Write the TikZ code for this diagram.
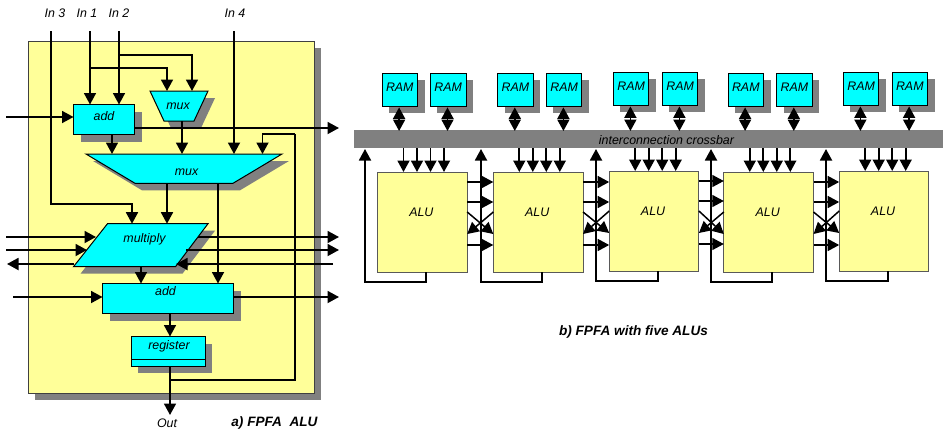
\documentclass[tikz,border=0pt]{standalone}
\usepackage{fontspec}
\setmainfont{Liberation Sans}
\usetikzlibrary{arrows.meta,shapes.geometric,shadows}
\definecolor{cy}{HTML}{00FFFF}
\definecolor{yl}{HTML}{FFFF99}
\definecolor{gr}{HTML}{808080}
\tikzset{
  lab/.style={font=\fontsize{12.4}{14}\selectfont\itshape,inner sep=0pt,text=black},
  capt/.style={font=\fontsize{13.6}{15}\selectfont\bfseries\itshape,inner sep=0pt,text=black},
  shad/.style={drop shadow={shadow xshift=7pt,shadow yshift=-7pt,fill=gr,opacity=1}},
  base/.style={lab,draw=black,line width=1pt,outer sep=0pt,inner sep=0pt},
  cybox/.style={base,fill=cy,shad,rectangle},
  trapfill/.style={draw=black,line width=1pt,fill=cy,line join=miter,shad},
  traptext/.style={lab,rectangle,outer sep=0pt},
  ramb/.style={cybox,minimum width=35.6pt,minimum height=33.4pt,anchor=north west,text height=5pt,text depth=2pt},
  alub/.style={base,draw=black!65,fill=yl,rectangle,minimum width=89.7pt,minimum height=100pt,anchor=north west,text height=2pt,text depth=12.6pt},
  wire/.style={line width=1.8pt,draw=black},
  fine wire/.style={line width=1.5pt,draw=black},
  arr/.style={wire,-{Triangle[length=11.5pt,width=12pt]}},
  arrs/.style={fine wire,-{Triangle[length=11.5pt,width=12pt]}},
  dbl/.style={wire,{Triangle[length=11.5pt,width=12pt]}-{Triangle[length=11.5pt,width=12pt]}},
}
\begin{document}
\begin{tikzpicture}[x=1pt,y=-1pt]
\useasboundingbox (0,0) rectangle (943,429);
% ---- panel a
\node[base,fill=yl,draw=black!75,shad,rectangle,minimum width=286pt,minimum height=352pt,anchor=north west] (panel) at (28,41) {};
\node[cybox,minimum width=61pt,minimum height=30pt,text height=3pt,text depth=2pt] (addone) at (104,119.5) {add};
\draw[trapfill] (150,91) -- (208,91) -- (194,121) -- (164,121) -- cycle;
\node[traptext,minimum width=30pt,minimum height=30pt,text height=8pt,text depth=2pt] (muxs) at (178,106) {mux};
\draw[trapfill] (86,154) -- (282,154) -- (233,183.3) -- (135,183.3) -- cycle;
\node[traptext,minimum width=98pt,minimum height=29.3pt,text height=15pt,text depth=2pt] (muxb) at (186.5,168.65) {mux};
\draw[trapfill] (107.5,223.7) -- (208,223.7) -- (175.5,266.7) -- (73.5,266.7) -- cycle;
\node[traptext,minimum width=68pt,minimum height=43pt,text height=2pt,text depth=8.4pt] (mult) at (144.5,245.2) {multiply};
\node[cybox,minimum width=131pt,minimum height=30pt,text height=2pt,text depth=9pt] (addtwo) at (168,298.5) {add\hspace*{5pt}};
\node[cybox,minimum width=74pt,minimum height=29.5pt,text height=2pt,text depth=6.4pt] (reg) at (168,351.25) {\hspace*{2pt}register};
\draw[line width=1pt] ([yshift=7pt]reg.south west) -- ([yshift=7pt]reg.south east);

\node[lab] (lin3) at (55,13) {In 3};
\node[lab] (lin1) at (87,13) {In 1};
\node[lab] (lin2) at (119,13) {In 2};
\node[lab] (lin4) at (235,13) {In 4};
\node[lab] (lout) at (167,423) {Out};
\node[capt] (capa) at (274.5,423) {a) FPFA\ \ ALU};

\foreach \n/\x in {i3/51,i1/90,i2/119,i4/234}
  \coordinate (\n) at (\x,31);
\draw[arr] (i3) |- (132,204) -- (132,223.7);
\draw[arr] (i1) -- (i1 |- addone.north);
\draw[arr] (i2) -- (i2 |- addone.north);
\draw[arr] (90,68) -| (167,91);
\draw[arr] (119,55) -| (192,91);
\draw[arr] (i4) -- (i4 |- muxb.north);
\coordinate (la) at (6,117);
\draw[arr] (la) -- (la -| addone.west);
\coordinate (ra) at (339,128);
\draw[arr] (ra -| addone.east) -- (ra);
\draw[arr] (112,134.5) -- (112,154);
\draw[arr] (182,121) -- (182,154);
\draw[wire] (170,380) -| (295,134);
\draw[arr] (295,134) -| (262.5,154);
\draw[arr] (167,183.3) -- (167,223.7);
\draw[arr] (218,183.3) -- (218,283.5);
\draw[arr] (6,237) -- (96,237);
\draw[arr] (6,250) -- (87,250);
\draw[arr] (74,264) -- (7,264);
\draw[arr] (198,237) -- (339,237);
\draw[arr] (186,250) -- (339,250);
\draw[arr] (333,264) -- (176,264);
\draw[arr] (141,266.7) -- (141,283.5);
\coordinate (lb) at (13,297);
\draw[arr] (lb) -- (lb -| addtwo.west);
\coordinate (rb) at (339,297);
\draw[arr] (rb -| addtwo.east) -- (rb);
\draw[arr] (170,313.5) -- (170,336.5);
\coordinate (o) at (170,415);
\draw[arr] (o |- reg.south) -- (o);

% ---- panel b
\node[lab,fill=gr,rectangle,minimum width=589pt,minimum height=18pt,anchor=north west] (bar) at (354,130) {};
\node[lab] (bartext) at (666.5,140) {interconnection crossbar};
\foreach \n/\x/\y in {1/382/73,2/430.4/73,3/497.7/73,4/546.3/73,5/613.3/72,6/662.3/72,7/728/73,8/776.7/73,9/843.3/72,10/892/72}{
  \node[ramb] (ram\n) at (\x,\y) {RAM};
  \draw[dbl] ([xshift=-0.7pt,yshift=-1pt]ram\n.south) -- ([xshift=-0.7pt,yshift=-1pt]ram\n.south |- bar.north);
}
\foreach \n/\x/\y in {1/377.5/172,2/493.3/172,3/609.2/171,4/723.8/172,5/839.2/171}{
  \node[alub] (alu\n) at (\x,\y) {ALU\hspace*{2pt}};
  \foreach \d in {26,39.5,53,66.5}
    \draw[arr] ([xshift=\d pt]alu\n.north west |- bar.south) -- ([xshift=\d pt]alu\n.north west);
}
\foreach \n/\x in {1/365,2/481,3/596,4/711,5/826}
  \draw[arr] ([xshift=48.5pt]alu\n.south west) -- ++(0,10) -| (\x,149);
\foreach \a/\b in {alu1/alu2,alu2/alu3,alu3/alu4,alu4/alu5}{
  \draw[arrs] ([yshift=-10pt]\a.north east) -- ([yshift=-10pt]\a.north east -| \b.west);
  \draw[arrs] ([yshift=-30pt]\a.north east) -- ([yshift=-30pt]\a.north east -| \b.west);
  \draw[arrs] ([yshift=-40pt]\a.north east) -- ([yshift=-62pt]\b.north west);
  \draw[arrs] ([yshift=-40pt]\b.north west) -- ([yshift=-62pt]\a.north east);
  \draw[arrs] ([yshift=-73pt]\a.north east) -- ([yshift=-73pt]\a.north east -| \b.west);
}
\node[capt] (capb) at (633.5,332) {b) FPFA with five ALUs};
\end{tikzpicture}
\end{document}
